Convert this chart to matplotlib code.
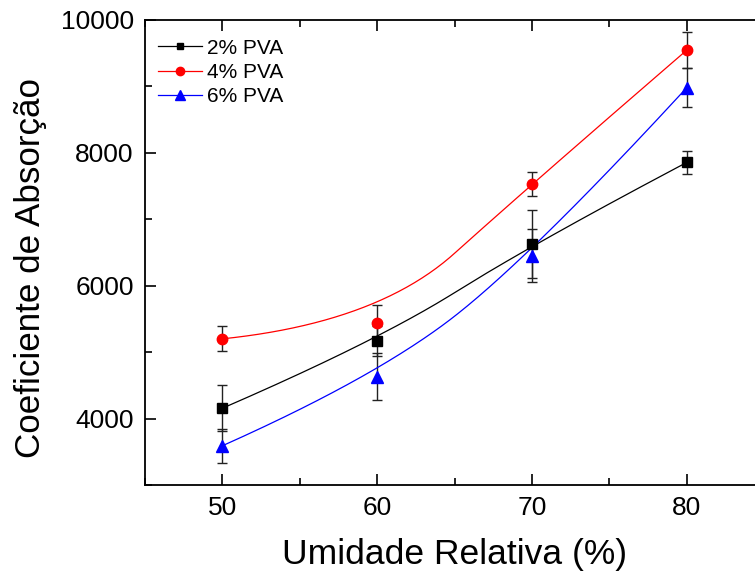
import numpy as np
import matplotlib
matplotlib.use("Agg")
import matplotlib.pyplot as plt
from matplotlib.ticker import MultipleLocator

plt.rcParams['font.family'] = ['Liberation Sans', 'DejaVu Sans']

# --- Data ---
umidade = [50, 60, 70, 80]
pva2 = [4155, 5165, 6625, 7855]
pva2_err = [345, 230, 510, 170]
pva4 = [5200, 5440, 7535, 9545]
pva4_err = [190, 270, 180, 270]
pva6 = [3590, 4630, 6450, 8980]
pva6_err = [255, 350, 400, 290]
labels = ["2% PVA", "4% PVA", "6% PVA"]
colors = ["black", "red", "blue"]
markers = ["s", "o", "^"]
msizes = [6.5, 7.5, 8.5]


def bspline2(x, y, n=100):
    # clamped quadratic B-spline with the data points as control points
    P = np.column_stack([x, y]).astype(float)
    k = len(P)
    mids = (P[1:] + P[:-1]) / 2
    s = np.linspace(0, 1, n)[:, None]
    out = []
    for i in range(1, k - 1):
        a = P[0] if i == 1 else mids[i - 1]
        c = P[-1] if i == k - 2 else mids[i]
        b = P[i]
        out.append((1 - s)**2 * a + 2 * s * (1 - s) * b + s**2 * c)
    seg = np.vstack(out)
    return seg[:, 0], seg[:, 1]


fig = plt.figure(figsize=(7.55, 5.73), dpi=100)
ax = fig.add_axes([0.192, 0.1536, 0.82, 0.8115])

for ys, err, lab, c, mk, ms in zip([pva2, pva4, pva6], [pva2_err, pva4_err, pva6_err],
                                   labels, colors, markers, msizes):
    ax.errorbar(umidade, ys, yerr=err, fmt="none", ecolor="#222222",
                elinewidth=1.0, capsize=3.5, capthick=1.0, zorder=2)
    bx, by = bspline2(umidade, ys)
    ax.plot(bx, by, color=c, lw=0.9, zorder=3)
    ax.plot(umidade, ys, ls="none", marker=mk, color=c, ms=ms, zorder=4)
    # legend handle
    ax.plot([], [], color=c, lw=0.9, marker=mk, ms=ms - 1.5, label=lab)

ax.set_xlim(45, 85)
ax.set_ylim(3000, 10000)
ax.xaxis.set_major_locator(MultipleLocator(10))
ax.xaxis.set_minor_locator(MultipleLocator(5))
ax.yaxis.set_major_locator(MultipleLocator(2000))
ax.yaxis.set_minor_locator(MultipleLocator(1000))
ax.tick_params(which="both", direction="in", top=True, right=False,
               labelsize=19, width=1.2, pad=8)
ax.tick_params(which="major", length=8)
ax.tick_params(which="minor", length=5)
for s in ax.spines.values():
    s.set_linewidth(1.3)

ax.set_xlabel("Umidade Relativa (%)", fontsize=25.5, labelpad=13)
ax.set_ylabel("Coeficiente de Absorção", fontsize=25.2)
ax.yaxis.set_label_coords(-0.158, 0.467)

ax.legend(loc="upper left", frameon=False, fontsize=15, handlelength=2.1,
          handletextpad=0.25, labelspacing=0.25, borderaxespad=0.1,
          bbox_to_anchor=(0.004, 0.982))

fig.savefig("out.png", dpi=100)
